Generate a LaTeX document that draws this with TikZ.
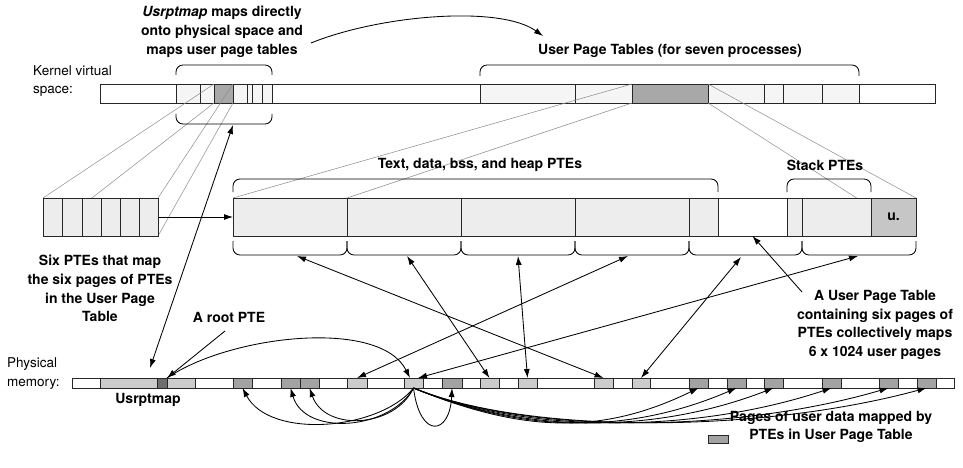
\documentclass[tikz,border=0pt]{standalone}
\usepackage{fontspec}
\setmainfont{TeX Gyre Heros}
\usetikzlibrary{arrows.meta,backgrounds,calc}
\definecolor{kvlight}{HTML}{F5F5F5}
\definecolor{kvdark}{HTML}{A8A8A8}
\definecolor{mlight}{HTML}{EDEDED}
\definecolor{ucol}{HTML}{C6C6C6}
\definecolor{plight}{HTML}{CCCCCC}
\definecolor{pmid}{HTML}{A3A3A3}
\definecolor{pdark}{HTML}{6E6E6E}
\definecolor{projgray}{HTML}{8C8C8C}
\begin{document}
\begin{tikzpicture}[x=1pt,y=-1pt,
 box/.style={draw=black!85,line width=0.9pt},
 proj/.style={draw=projgray,line width=0.5pt},
 tip/.style={-{Latex[length=9pt,width=6pt]},line width=0.85pt},
 dtip/.style={{Latex[length=9pt,width=6pt]}-{Latex[length=9pt,width=6pt]},line width=0.85pt},
 brk/.style={draw=black,line width=0.85pt,rounded corners=7pt},
 lbl/.style={font=\bfseries\fontsize{14}{18.8}\selectfont,align=center,inner sep=0pt},
 plain/.style={font=\fontsize{13.5}{18.5}\selectfont,align=left,inner sep=0pt},
 cellnode/.style={box,inner sep=0pt,outer sep=0pt}]
\useasboundingbox (0,0) rectangle (963,468);

% ---------- middle row ----------
\node[cellnode,fill=mlight,minimum width=115pt,minimum height=38pt] (six) at (100.5,217) {};
\foreach \x in {62,82,101,120,139} \draw[box] (\x,198) -- (\x,236);
\node[cellnode,fill=mlight,minimum width=683pt,minimum height=38pt] (upt) at (574.5,217) {};
\foreach \x in {347,461,575,689,787,802} \draw[box] (\x,198) -- (\x,236);
\node[cellnode,fill=white,minimum width=69pt,minimum height=38pt] (uptw) at (752.5,217) {};
\node[cellnode,fill=ucol,minimum width=45pt,minimum height=38pt,font=\bfseries\fontsize{14}{16}\selectfont] (uarea) at (893.5,217) {u.};

% ---------- top bar with projection lines (behind middle row) ----------
\begin{scope}[on background layer]
\draw[box,fill=white] (100,84) rectangle (935,103);
\foreach \a/\b in {176/200,200/214,233/247,247/252,252/262,262/272,480/575,575/632,708/764,764/783,783/822,822/859}
  \draw[box,fill=kvlight] (\a,84) rectangle (\b,103);
\node[cellnode,fill=kvdark,minimum width=19pt,minimum height=19pt] (kvusr) at (223.5,93.5) {};
\node[cellnode,fill=kvdark,minimum width=76pt,minimum height=19pt] (kvupt) at (670,93.5) {};
\draw[proj] (kvusr.north west) -- (six.north west);
\draw[proj] (kvusr.south west) -- (six.south west);
\draw[proj] (kvusr.north east) -- (six.north east);
\draw[proj] (kvusr.south east) -- (six.south east);
\draw[proj] (kvupt.north west) -- (upt.north west);
\draw[proj] (kvupt.south west) -- (upt.south west);
\draw[proj] (kvupt.north east) -- (upt.north east);
\draw[proj] (kvupt.south east) -- (upt.south east);
\end{scope}

% ---------- brackets ----------
\draw[brk] (176,75) -- (176,65) -- (272,65) -- (272,75);
\draw[brk] (176,114) -- (176,124) -- (272,124) -- (272,114);
\draw[brk] (480,76) -- (480,65) -- (859,65) -- (859,76);
\draw[brk] (233,192) -- (233,179) -- (718,179) -- (718,192);
\draw[brk] (787,192) -- (787,179) -- (871,179) -- (871,192);
\foreach \a/\b in {233/347,347/461,461/575,575/689,689/802,802/916}
  \draw[brk] (\a,241) -- (\a,255) -- (\b,255) -- (\b,241);

% ---------- labels ----------
\node[plain,anchor=west] (kvlbl) at (33,81) {Kernel virtual\\space:};
\node[plain,anchor=west] (pmlbl) at (7,373.5) {Physical\\memory:};
\node[lbl] (usrtitle) at (222,32) {\textit{Usrptmap} maps directly\\onto physical space and\\maps user page tables};
\node[lbl] (upttitle) at (670,51) {User Page Tables (for seven processes)};
\node[lbl] (tdbh) at (480,165) {Text, data, bss, and heap PTEs};
\node[lbl] (stk) at (825,165) {Stack PTEs};
\node[lbl] (sixlbl) at (100,288.5) {Six PTEs that map\\the six pages of PTEs\\in the User Page\\Table};
\node[lbl] (rootlbl) at (229,317) {A root PTE};
\node[lbl] (uptlbl) at (875,325) {A User Page Table\\containing six pages of\\PTEs collectively maps\\6 x 1024 user pages};
\node[lbl] (usrlbl) at (148,400) {Usrptmap};
\node[lbl] (legtxt) at (831,427) {Pages of user data mapped by\\PTEs in User Page Table};
\node[cellnode,fill=pmid,minimum width=20pt,minimum height=8pt] (legbox) at (718,439.5) {};

% ---------- physical memory ----------
\draw[box,fill=white] (72,378) rectangle (954,388);
\foreach \n/\a/\b/\c in {usr/100/157/plight,root/157/167/pdark,usrb/167/195/plight,
  d233/233/252/pmid,d281/281/300/pmid,d300/300/319/pmid,
  p347/347/367/plight,pt/404/423/plight,d442/442/462/pmid,p480/480/499/plight,
  p518/518/537/plight,p594/594/613/plight,p632/632/650/plight,
  d689/689/708/pmid,d727/727/746/pmid,d764/764/783/pmid,d822/822/841/pmid,
  d879/879/898/pmid,d917/917/936/pmid}
  \node[cellnode,fill=\c,minimum width={(\b-\a)*1pt},minimum height=10pt] (\n) at ({(\a+\b)/2},383) {};

% ---------- coordinates ----------
\coordinate (arcstart) at (311,43);
\coordinate (arcend) at (543,36);
\coordinate (usrbr) at (233,125);
\coordinate (usrtip) at (150,368);
\coordinate (rootlead) at (225,331);
\coordinate (ptL) at (410,378);
\coordinate (ptR) at (418,378);
\coordinate (uptlead) at (802,292);
\coordinate (b1) at (297,256);
\coordinate (b2) at (407,256);
\coordinate (b3) at (518,256);
\coordinate (b4) at (628,256);
\coordinate (b5) at (741,257);
\coordinate (b6) at (858,256);

% ---------- connectors ----------
\draw[tip] (arcstart) .. controls (380,15) and (500,5) .. (arcend);
\draw[tip] (six.east) -- (upt.west);
\draw[dtip] (usrbr) -- (usrtip);
\draw[tip] (rootlead) -- (root.north east);
\draw[tip] (root.north east) .. controls (230,335) and (380,318) .. (ptL);
\draw[tip] (uptlead) -- (uptw.south);
\draw[dtip] (b1) -- (p594.north);
\draw[dtip] (b2) -- (p480.north);
\draw[dtip] (b3) -- (p518.north);
\draw[dtip] (b4) -- (p347.north);
\draw[dtip] (b5) -- (p632.north);
\draw[dtip] (b6) -- (ptR);

% fan of mappings from the page-table page
\draw[tip] (pt.south) .. controls (380,430) and (270,440) .. (d233.south);
\draw[tip] (pt.south) .. controls (390,430) and (305,437) .. (d281.south);
\draw[tip] (pt.south) .. controls (395,428) and (325,432) .. (d300.south);
\draw[tip] (pt.south) .. controls (420,440) and (450,435) .. (d442.south);
\foreach \n/\xe in {d689/698,d727/736,d764/773,d822/831,d879/888,d917/926}
  \draw[tip] (pt.south) .. controls (525,434) and ({\xe-0.33*(\xe-413)},434) .. (\n.south);
\end{tikzpicture}
\end{document}
